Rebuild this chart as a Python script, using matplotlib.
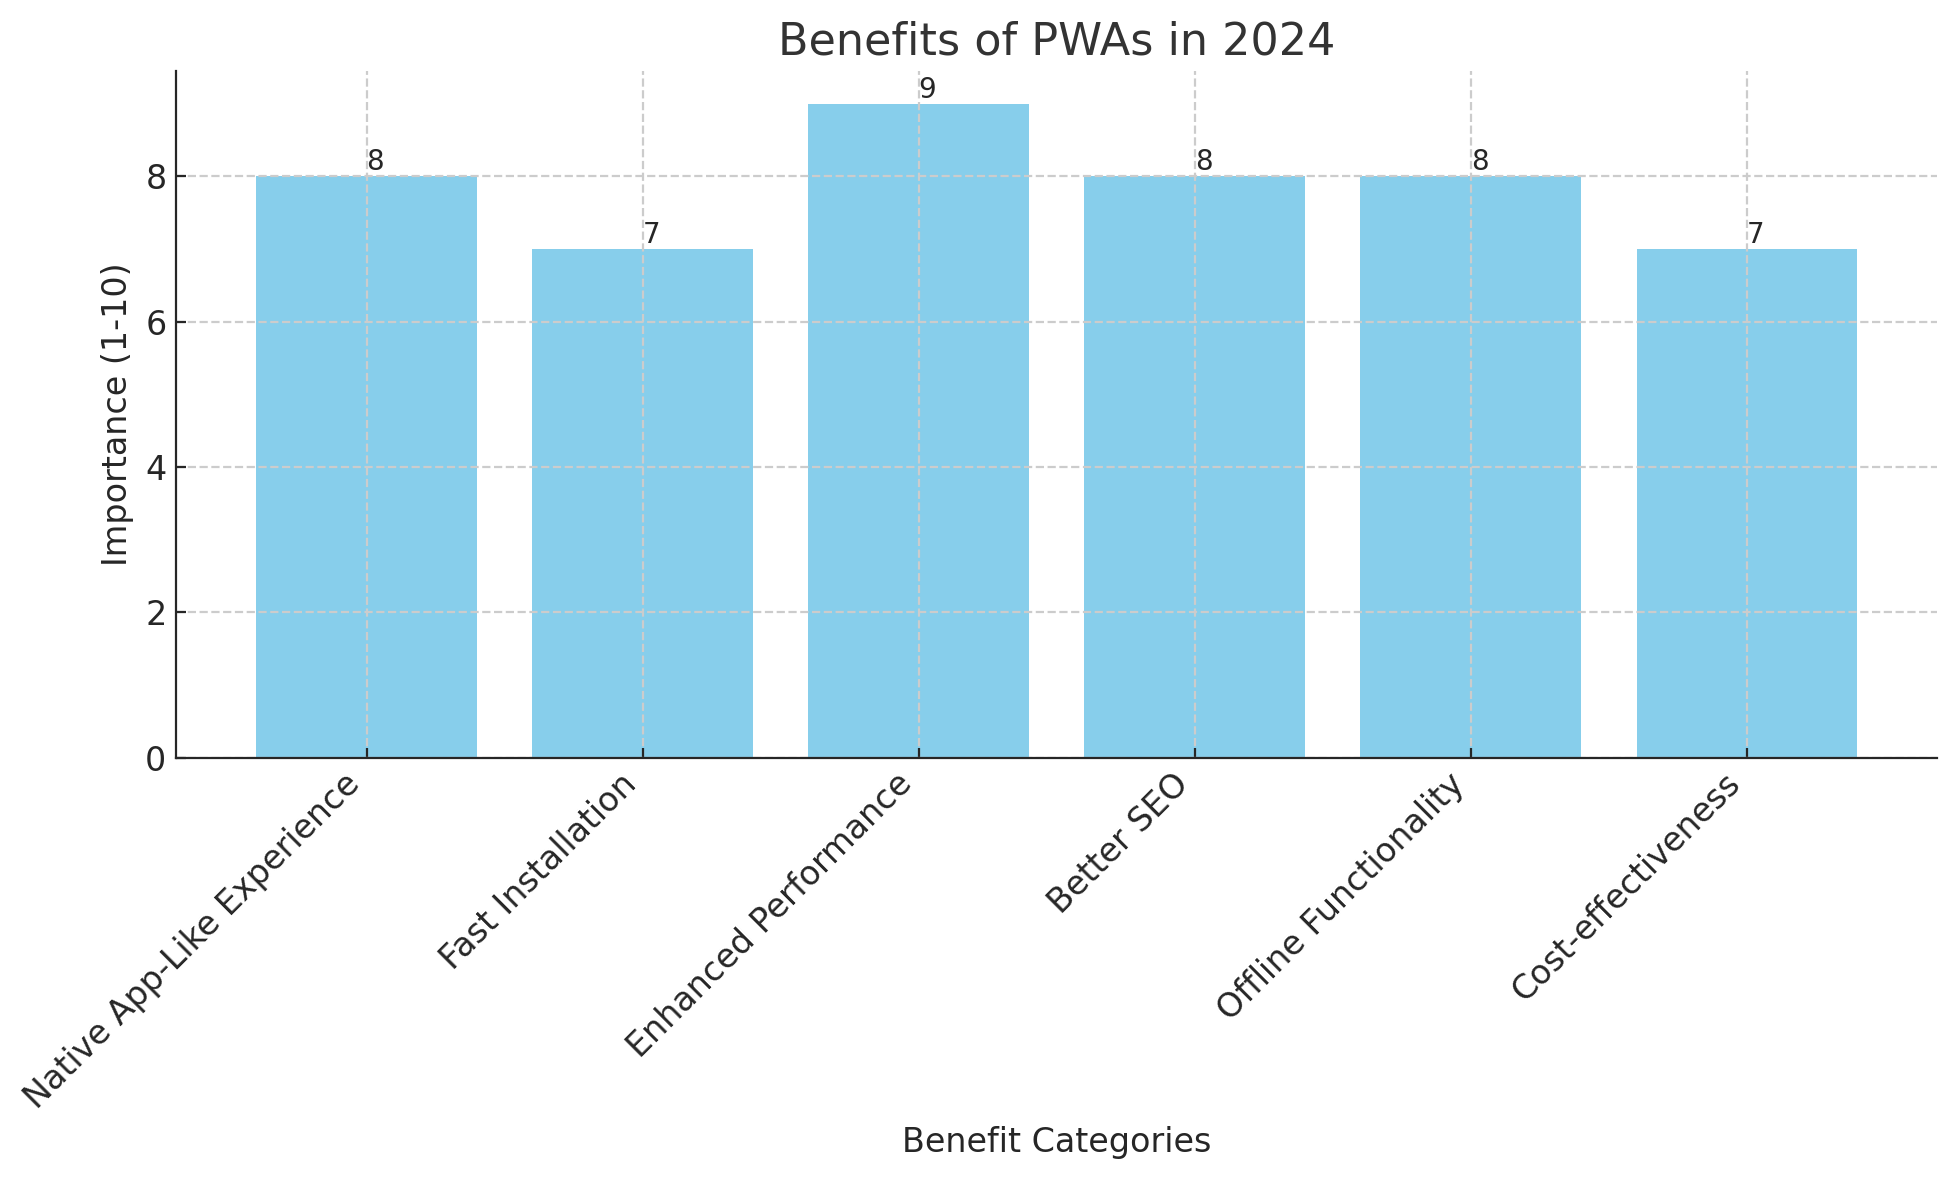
import matplotlib.pyplot as plt

categories = ['Native App-Like Experience', 'Fast Installation', 'Enhanced Performance',
              'Better SEO', 'Offline Functionality', 'Cost-effectiveness']
importance = [8, 7, 9, 8, 8, 7]

plt.rcParams['text.color'] = '#262626'
plt.rcParams['axes.labelcolor'] = '#262626'
plt.rcParams['xtick.color'] = '#262626'
plt.rcParams['ytick.color'] = '#262626'

fig, ax = plt.subplots(figsize=(9.785, 5.9), dpi=200)
bars = ax.bar(categories, importance, color='skyblue', width=0.8)
for bar, val in zip(bars, importance):
    ax.text(bar.get_x() + bar.get_width() / 2, bar.get_height(), str(val),
            ha='left', va='bottom', fontsize=10)

ax.set_title('Benefits of PWAs in 2024', fontsize=16, color='#333333')
ax.set_xlabel('Benefit Categories', fontsize=12)
ax.set_ylabel('Importance (1-10)', fontsize=12)
ax.tick_params(axis='both', labelsize=12, direction='in')
plt.setp(ax.get_xticklabels(), rotation=45, ha='right')
ax.grid(True, linestyle='--', color='#cccccc', linewidth=0.8)
ax.set_axisbelow(False)
for side in ['left', 'bottom']:
    ax.spines[side].set_zorder(3)
    ax.spines[side].set_color('#262626')
ax.spines['top'].set_visible(False)
ax.spines['right'].set_visible(False)

fig.subplots_adjust(left=0.09, right=0.99, top=0.94, bottom=0.358)
plt.savefig('out.png', dpi=200)
